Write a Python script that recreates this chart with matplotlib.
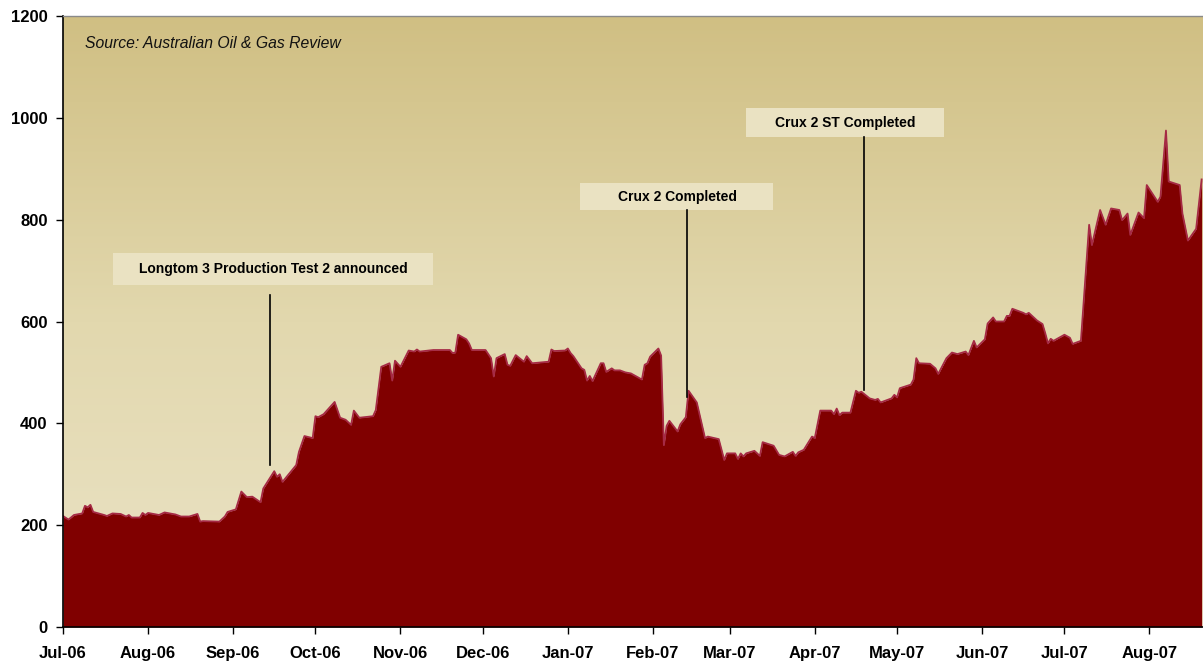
import numpy as np
import matplotlib
matplotlib.use('Agg')
import matplotlib.pyplot as plt
import pandas as pd
from matplotlib.patches import Rectangle
from matplotlib.colors import LinearSegmentedColormap

plt.rcParams['font.family'] = ['Liberation Sans', 'DejaVu Sans']

# ---- data ----
dates = [
    '2006-07-01', '2006-07-03', '2006-07-05', '2006-07-08', '2006-07-09', '2006-07-10',
    '2006-07-11', '2006-07-12', '2006-07-16', '2006-07-17', '2006-07-19', '2006-07-22',
    '2006-07-24', '2006-07-25', '2006-07-26', '2006-07-29', '2006-07-30', '2006-07-31',
    '2006-08-01', '2006-08-05', '2006-08-07', '2006-08-11', '2006-08-13', '2006-08-16',
    '2006-08-19', '2006-08-20', '2006-08-21', '2006-08-27', '2006-08-29', '2006-08-30',
    '2006-09-02', '2006-09-04', '2006-09-06', '2006-09-08', '2006-09-11', '2006-09-12',
    '2006-09-14', '2006-09-16', '2006-09-17', '2006-09-18', '2006-09-19', '2006-09-24',
    '2006-09-25', '2006-09-27', '2006-09-30', '2006-10-01', '2006-10-02', '2006-10-04',
    '2006-10-08', '2006-10-10', '2006-10-12', '2006-10-14', '2006-10-15', '2006-10-17',
    '2006-10-22', '2006-10-23', '2006-10-25', '2006-10-28', '2006-10-29', '2006-10-30',
    '2006-11-01', '2006-11-04', '2006-11-06', '2006-11-07', '2006-11-08', '2006-11-13',
    '2006-11-19', '2006-11-20', '2006-11-21', '2006-11-22', '2006-11-25', '2006-11-26',
    '2006-11-27', '2006-12-02', '2006-12-04', '2006-12-05', '2006-12-06', '2006-12-09',
    '2006-12-10', '2006-12-11', '2006-12-13', '2006-12-16', '2006-12-17', '2006-12-19',
    '2006-12-25', '2006-12-26', '2006-12-27', '2006-12-31', '2007-01-01', '2007-01-02',
    '2007-01-03', '2007-01-06', '2007-01-07', '2007-01-08', '2007-01-09', '2007-01-10',
    '2007-01-13', '2007-01-14', '2007-01-15', '2007-01-17', '2007-01-18', '2007-01-20',
    '2007-01-22', '2007-01-24', '2007-01-28', '2007-01-29', '2007-01-30', '2007-01-31',
    '2007-02-03', '2007-02-04', '2007-02-05', '2007-02-06', '2007-02-07', '2007-02-10',
    '2007-02-11', '2007-02-13', '2007-02-14', '2007-02-17', '2007-02-20', '2007-02-21',
    '2007-02-25', '2007-02-27', '2007-02-28', '2007-03-03', '2007-03-04', '2007-03-05',
    '2007-03-06', '2007-03-07', '2007-03-10', '2007-03-12', '2007-03-13', '2007-03-17',
    '2007-03-19', '2007-03-21', '2007-03-24', '2007-03-25', '2007-03-26', '2007-03-28',
    '2007-03-31', '2007-04-01', '2007-04-03', '2007-04-07', '2007-04-08', '2007-04-09',
    '2007-04-10', '2007-04-11', '2007-04-14', '2007-04-16', '2007-04-17', '2007-04-18',
    '2007-04-21', '2007-04-23', '2007-04-24', '2007-04-25', '2007-04-29', '2007-04-30',
    '2007-05-01', '2007-05-02', '2007-05-06', '2007-05-07', '2007-05-08', '2007-05-09',
    '2007-05-13', '2007-05-15', '2007-05-16', '2007-05-19', '2007-05-21', '2007-05-23',
    '2007-05-26', '2007-05-27', '2007-05-29', '2007-05-30', '2007-06-02', '2007-06-03',
    '2007-06-05', '2007-06-06', '2007-06-09', '2007-06-10', '2007-06-11', '2007-06-12',
    '2007-06-14', '2007-06-16', '2007-06-17', '2007-06-18', '2007-06-21', '2007-06-23',
    '2007-06-24', '2007-06-25', '2007-06-26', '2007-06-27', '2007-07-01', '2007-07-03',
    '2007-07-04', '2007-07-07', '2007-07-10', '2007-07-11', '2007-07-14', '2007-07-16',
    '2007-07-18', '2007-07-21', '2007-07-22', '2007-07-24', '2007-07-25', '2007-07-28',
    '2007-07-30', '2007-07-31', '2007-08-04', '2007-08-05', '2007-08-07', '2007-08-08',
    '2007-08-12', '2007-08-13', '2007-08-15', '2007-08-18', '2007-08-20',
]
values = [
    218, 211, 220, 223, 238, 235,
    240, 226, 220, 218, 223, 222,
    217, 220, 215, 215, 224, 220,
    224, 220, 225, 221, 217, 217,
    222, 207, 208, 207, 217, 226,
    231, 266, 255, 256, 245, 272,
    289, 306, 295, 300, 285, 318,
    344, 375, 371, 414, 412, 418,
    442, 411, 407, 397, 425, 411,
    414, 426, 511, 518, 484, 523,
    511, 543, 541, 545, 541, 544,
    544, 538, 539, 574, 565, 557,
    544, 544, 528, 492, 528, 536,
    515, 513, 534, 521, 532, 518,
    521, 545, 542, 543, 547, 538,
    532, 508, 505, 484, 493, 483,
    518, 518, 501, 508, 504, 504,
    500, 498, 486, 515, 518, 531,
    547, 533, 357, 395, 405, 384,
    398, 412, 464, 441, 371, 374,
    369, 328, 341, 341, 330, 341,
    335, 341, 346, 336, 363, 356,
    338, 335, 344, 336, 343, 348,
    374, 371, 425, 425, 418, 429,
    416, 421, 421, 464, 460, 462,
    449, 446, 448, 441, 449, 456,
    451, 469, 476, 486, 528, 518,
    517, 508, 497, 528, 539, 536,
    541, 534, 562, 549, 565, 596,
    608, 600, 600, 611, 611, 625,
    621, 617, 614, 617, 602, 595,
    577, 557, 566, 562, 574, 568,
    556, 562, 790, 750, 819, 790,
    822, 819, 799, 812, 770, 814,
    803, 868, 835, 845, 975, 875,
    868, 812, 759, 782, 879,
]
month_ticks = ['2006-07-01', '2006-08-01', '2006-09-01', '2006-10-01', '2006-11-01',
               '2006-12-01', '2007-01-01', '2007-02-01', '2007-03-01', '2007-04-01',
               '2007-05-01', '2007-06-01', '2007-07-01', '2007-08-01']
tick_labels = ['Jul-06', 'Aug-06', 'Sep-06', 'Oct-06', 'Nov-06', 'Dec-06', 'Jan-07',
               'Feb-07', 'Mar-07', 'Apr-07', 'May-07', 'Jun-07', 'Jul-07', 'Aug-07']
y_ticks = [0, 200, 400, 600, 800, 1000, 1200]
events = ['Longtom 3 Production Test 2 announced', 'Crux 2 Completed', 'Crux 2 ST Completed']
source_text = 'Source: Australian Oil & Gas Review'

# ---- figure ----
W, H = 1203, 663
fig = plt.figure(figsize=(W / 100, H / 100), dpi=100)
L, R, T, B = 63, 1203, 16, 627
ax = fig.add_axes([L / W, (H - B) / H, (R - L) / W, (B - T) / H])

def fx(px):
    return (px - L) / (R - L)

def fy(py):
    return (B - py) / (B - T)

# gradient background
cmap = LinearSegmentedColormap.from_list('bg', ['#EBE3C6', '#E2D8AE', '#D0BF83'])
grad = np.linspace(0, 1, 256).reshape(-1, 1)
ax.imshow(grad, extent=[0, 1, 0, 1], transform=ax.transAxes, aspect='auto',
          cmap=cmap, origin='lower', zorder=0)

x = pd.to_datetime(dates)
ax.fill_between(x, values, 0, color='#800000', linewidth=0, zorder=2)
ax.plot(x, values, color='#A52A45', linewidth=1.3, zorder=3)

ax.set_xlim(pd.Timestamp('2006-07-01'), pd.Timestamp('2007-08-20 12:00'))
ax.set_ylim(0, 1200)
ax.set_yticks(y_ticks)
ax.set_yticklabels([str(v) for v in y_ticks], fontweight='bold')
ax.set_xticks(pd.to_datetime(month_ticks))
ax.set_xticklabels(tick_labels, fontweight='bold')
ax.tick_params(axis='both', direction='out', length=5, width=1, labelsize=12,
               colors='black')
ax.tick_params(axis='x', pad=9)
ax.tick_params(axis='y', pad=6)

ax.spines['right'].set_visible(False)
ax.spines['top'].set_color('#8A8A8A')
ax.spines['top'].set_linewidth(1.0)
ax.spines['left'].set_linewidth(1.2)
ax.spines['bottom'].set_linewidth(1.2)
for s in ax.spines.values():
    s.set_zorder(5)

# source
ax.text(fx(85), fy(44), source_text, transform=ax.transAxes, fontsize=11.3,
        style='italic', ha='left', va='center', color='#111111', zorder=6)

# annotation boxes + leader lines (pixel layout)
boxes = [
    (113, 253, 433, 285, 273, 270, 295, 465),
    (580, 183, 773, 210, 677, 687, 210, 397),
    (746, 108, 944, 137, 845, 864, 137, 390),
]
for (x0, y0, x1, y1, tx, lx, ly0, ly1), label in zip(boxes, events):
    ax.add_patch(Rectangle((fx(x0), fy(y1)), fx(x1) - fx(x0), fy(y0) - fy(y1),
                           transform=ax.transAxes, facecolor='#EAE2C2',
                           edgecolor='none', zorder=6))
    ax.text(fx(tx), fy((y0 + y1) / 2), label, transform=ax.transAxes,
            fontsize=10, fontweight='bold', ha='center', va='center', zorder=7)
    ax.plot([fx(lx), fx(lx)], [fy(ly0), fy(ly1)], transform=ax.transAxes,
            color='black', linewidth=1.2, zorder=6)

fig.savefig('out.png', dpi=100)
